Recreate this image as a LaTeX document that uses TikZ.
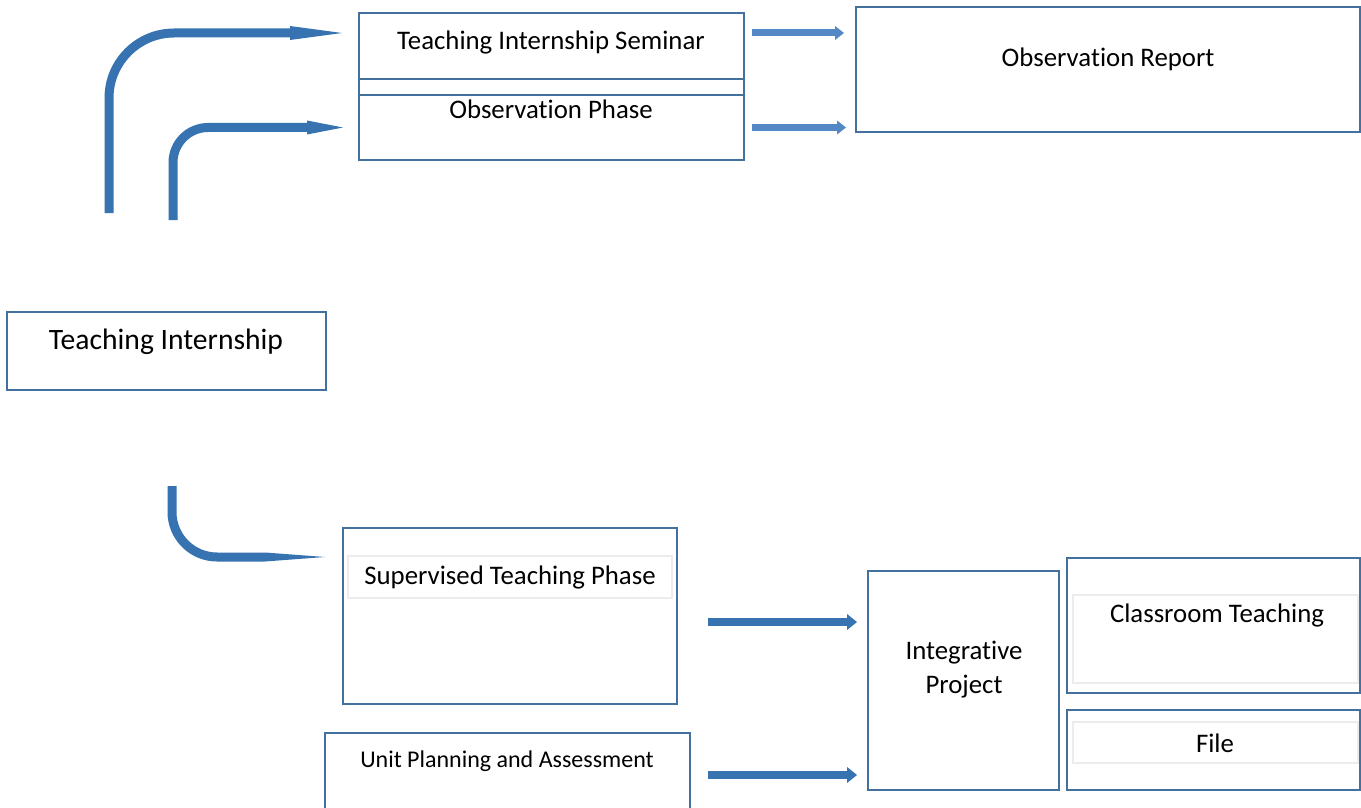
\documentclass[tikz,border=0pt]{standalone}
\usepackage{fontspec}
\setmainfont[Ligatures=NoCommon]{Carlito}
\usetikzlibrary{positioning}
\usetikzlibrary{arrows.meta}

\definecolor{boxblue}{RGB}{68,112,158}
\definecolor{arrowblue}{RGB}{55,115,176}
\definecolor{thinblue}{RGB}{84,136,196}
\definecolor{stripgray}{RGB}{236,236,236}

\tikzset{
  box/.style={draw=boxblue, line width=1pt, rectangle, inner sep=0pt},
  strip/.style={draw=stripgray, line width=0.6pt, rectangle, inner sep=0pt},
  txt/.style={inner sep=0pt, font=\fontsize{13.4}{17}\selectfont, align=center},
  bentarrow/.style={draw=arrowblue, line width=4.5pt},
  fatarrow/.style={draw=arrowblue, line width=4pt, -{Triangle[length=5pt,width=8pt,line width=0pt]}},
  thinarrow/.style={draw=thinblue, line width=3.5pt, -{Triangle[length=4.5pt,width=7pt,line width=0pt]}}
}

\begin{document}
\begin{tikzpicture}[x=0.5pt,y=-0.5pt]
		\clip (0,0) rectangle (1361,808);
		\fill[white] (0,0) rectangle (1361,808);
		% boxes
		\node (intern) [box, minimum width=159.5pt, minimum height=39pt] at (166.5,351) {};
		\node (interntxt) [txt, font=\fontsize{14.8}{18}\selectfont] at (166,342) {Teaching Internship};
		\node (sem) [box, minimum width=192.5pt, minimum height=33pt] at (551.5,46) {};
		\node (semtxt) [txt] at (551,43) {Teaching Internship Seminar};
		\node (gap) [box, minimum width=192.5pt, minimum height=8pt] at (551.5,87) {};
		\node (obs) [box, minimum width=192.5pt, minimum height=32.5pt] at (551.5,127.5) {};
		\node (obstxt) [txt] at (551,109) {Observation Phase};
		\node (rep) [box, minimum width=252pt, minimum height=62.5pt] at (1108,69.5) {};
		\node (reptxt) [txt] at (1108,59) {Observation Report};
		\node (sup) [box, minimum width=167pt, minimum height=88pt] at (510,616) {};
		\node (supin) [strip, minimum width=162pt, minimum height=21pt] at (510,577) {};
		\node (suptxt) [txt] at (510,577) {Supervised Teaching Phase};
		\node (unit) [box, minimum width=182.5pt, minimum height=58.5pt] at (507.5,791.5) {};
		\node (unittxt) [txt, font=\fontsize{12}{14}\selectfont] at (507,761) {Unit Planning and Assessment};
		\node (integ) [box, minimum width=95.5pt, minimum height=109.5pt] at (963.5,680.5) {};
		\node (integtxt) [txt] at (964,670) {Integrative\\Project};
		\node (class) [box, minimum width=146.5pt, minimum height=67.5pt] at (1213.5,625.5) {};
		\node (classin) [strip, minimum width=142.5pt, minimum height=44pt] at (1215.5,639) {};
		\node (classtxt) [txt] at (1217,615) {Classroom Teaching};
		\node (file) [box, minimum width=146.5pt, minimum height=40pt] at (1213.5,750) {};
		\node (filein) [strip, minimum width=142.5pt, minimum height=20.5pt] at (1215.5,742.5) {};
		\node (filetxt) [txt] at (1215,743) {File};
		% bent arrows out of the internship
		\coordinate (c1) at (109,213);
		\coordinate (c2) at (173,220);
		\coordinate (c3) at (172,486);
		\draw[bentarrow, rounded corners=32.5pt, -{Triangle[length=26pt,width=7pt,line width=0pt]}] (c1) |- ([shift={(-16,-13)}]sem.west);
		\draw[bentarrow, rounded corners=17.5pt, -{Triangle[length=18pt,width=7pt,line width=0pt]}] (c2) |- ([xshift=-7.5pt]obs.west);
		\draw[bentarrow, rounded corners=22.5pt, -{Triangle[length=30pt,width=4.5pt,line width=0pt]}] (c3) |- ([shift={(-17,-59)}]sup.west);
		% straight arrows
		\coordinate (s1) at ([shift={(7,-13)}]sem.east);
		\coordinate (s2) at ([xshift=3.5pt]obs.east);
		\coordinate (b1) at ([shift={(30,6)}]sup.east);
		\coordinate (b2) at ([shift={(17,-16.5)}]unit.east);
		\draw[thinarrow, shorten >=5.5pt] (s1) -- (s1 -| rep.west);
		\draw[thinarrow, shorten >=4.5pt] (s2) -- (s2 -| rep.west);
		\draw[fatarrow, shorten >=5pt] (b1) -- (b1 -| integ.west);
		\draw[fatarrow, shorten >=5pt] (b2) -- (b2 -| integ.west);
\end{tikzpicture}
\end{document}
